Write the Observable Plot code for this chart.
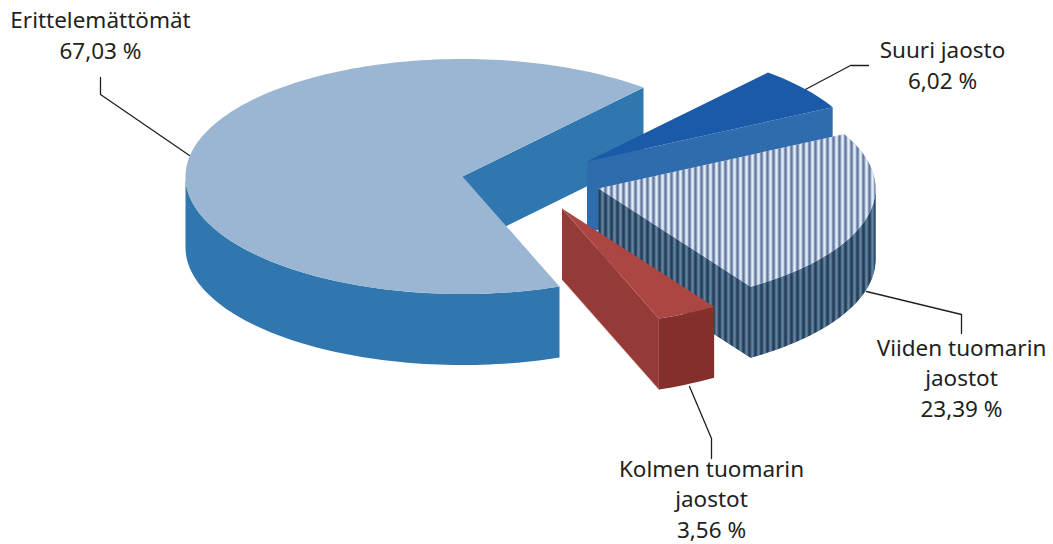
<!DOCTYPE html>
<html lang="fi">
<head>
<meta charset="utf-8">
<title>Ratkaisukokoonpanot</title>
<style>
  html, body { margin: 0; padding: 0; background: #fff; }
  svg { display: block; }
</style>
<script src="https://cdn.jsdelivr.net/npm/d3@7"></script>
<script src="https://cdn.jsdelivr.net/npm/@observablehq/plot@0.6"></script>
</head>
<body>
<script>
// Shares of decisions by panel, clockwise from the lower cut of the large slice
const sliceNames = ["Erittelemättömät", "Suuri jaosto", "Viiden tuomarin\njaostot", "Kolmen tuomarin\njaostot"];
const sliceShares = [67.03, 6.02, 23.39, 3.56];

// Tilted-disc projection of the pie
const radiusX = 277;
const radiusY = 117.5;
const depth = 71;
const firstAngle = 159.5;

// Each slice is pulled out of the disc to its own apex
const apexX = [462, 586.5, 598, 561.5];
const apexY = [176, 161, 188, 208];

// Label anchors and their leader lines
const labelX = [100, 942, 961, 711];
const labelY = [33, 63, 376, 497];
const leaderX = [[100, 100, 189], [803, 850, 868], [866, 961, 961], [689, 711, 711]];
const leaderY = [[77, 94, 155], [90, 65, 65], [291, 314, 333], [386, 438, 458]];

const colors = {
  ink: "#231f20",
  largeTop: "#9ab6d3", largeWall: "#2f77ae",
  grandTop: "#1a5aa8", grandWall: "#2e6cae",
  stripedTop: "#a4bbd6", stripedWall: "#3b5a7a",
  redTop: "#ab4643", redSide: "#963a38", redFront: "#832f2c", redEdge: "#c9807c"
};

// Angles: 0 deg points up, growing clockwise past a full turn
const rad = d => d * Math.PI / 180;
const spans = [];
{
  let start = firstAngle;
  for (const share of sliceShares) {
    const end = start + share * 3.6;
    spans.push([start, end]);
    start = end;
  }
}
const rimPoint = (i, a, drop = 0) => [
  apexX[i] + radiusX * Math.sin(rad(a)),
  apexY[i] - radiusY * Math.cos(rad(a)) + drop
];
const arc = (i, a0, a1, drop = 0) => {
  const n = Math.max(2, Math.ceil(Math.abs(a1 - a0) / 1.5));
  return d3.range(n + 1).map(k => rimPoint(i, a0 + (a1 - a0) * k / n, drop));
};
const topFace = i => [[apexX[i], apexY[i]], ...arc(i, spans[i][0], spans[i][1])];
const outerWall = (i, a0, a1) => [...arc(i, a0, a1), ...arc(i, a1, a0, depth)];
const cutWall = (i, a) => {
  const [x, y] = rimPoint(i, a);
  return [[apexX[i], apexY[i]], [x, y], [x, y + depth], [apexX[i], apexY[i] + depth]];
};
const face = (points, fill, extra = {}) =>
  Plot.line(points, {x: d => d[0], y: d => d[1], fill, stroke: "none", curve: "linear", ...extra});

// Vertical stripes of the five-judge slice
const stripeDefs = () => {
  const defs = d3.create("svg:defs");
  const addStripes = (id, bands) => {
    const width = d3.sum(bands, b => b[0]);
    const p = defs.append("pattern").attr("id", id)
      .attr("patternUnits", "userSpaceOnUse")
      .attr("x", 598).attr("y", 0).attr("width", width).attr("height", 10);
    let x = 0;
    for (const [w, fill] of bands) {
      p.append("rect").attr("x", x).attr("y", 0).attr("width", w).attr("height", 10).attr("fill", fill);
      x += w;
    }
  };
  addStripes("stripes-top", [[2, "#68769a"], [1, "#a4bbd6"], [2, "#e2edf8"], [1, "#a8bdd8"]]);
  addStripes("stripes-wall", [[2, "#233f58"], [1, "#3b5a7a"], [2, "#64829f"], [1, "#3d5c7c"]]);
  return defs.node();
};

const labelText = sliceNames.map((name, i) =>
  `${name}\n${sliceShares[i].toFixed(2).replace(".", ",")}\u00a0%`);

const chart = Plot.plot({
  width: 1053,
  height: 544,
  margin: 0,
  style: {background: "#fff"},
  x: {domain: [0, 1053], range: [0, 1053], axis: null},
  y: {domain: [0, 544], range: [0, 544], axis: null},
  marks: [
    stripeDefs,

    // Leader lines
    ...leaderX.map((xs, i) => Plot.line(xs.map((x, k) => [x, leaderY[i][k]]), {
      x: d => d[0], y: d => d[1], stroke: colors.ink, strokeWidth: 1.3, curve: "linear"
    })),

    // Large slice
    face(cutWall(0, spans[0][1]), colors.largeWall),
    face(outerWall(0, spans[0][0], 270), colors.largeWall),
    face(topFace(0), colors.largeTop),

    // Grand chamber slice
    face(cutWall(1, spans[1][1]), colors.grandWall),
    face(topFace(1), colors.grandTop),

    // Five-judge slice: only the front of its rim shows; a solid base sits under each stripe fill
    face(cutWall(2, spans[2][1]), colors.stripedWall),
    face(outerWall(2, 450, spans[2][1]), colors.stripedWall),
    face(cutWall(2, spans[2][1]), "url(#stripes-wall)"),
    face(outerWall(2, 450, spans[2][1]), "url(#stripes-wall)"),
    face(topFace(2), colors.stripedTop),
    face(topFace(2), "url(#stripes-top)"),

    // Three-judge slice
    face(cutWall(3, spans[3][1]), colors.redSide, {stroke: colors.redEdge, strokeWidth: 0.6}),
    face(outerWall(3, spans[3][0], spans[3][1]), colors.redFront),
    face(topFace(3), colors.redTop),

    // Labels
    Plot.text(labelText, {
      x: (d, i) => labelX[i],
      y: (d, i) => labelY[i],
      text: d => d,
      textAnchor: "middle",
      lineAnchor: "middle",
      lineHeight: 1.36,
      fontFamily: "'Noto Sans', 'Open Sans', sans-serif",
      fontSize: 22.5,
      fill: colors.ink
    })
  ]
});
document.body.append(chart);
</script>
</body>
</html>
